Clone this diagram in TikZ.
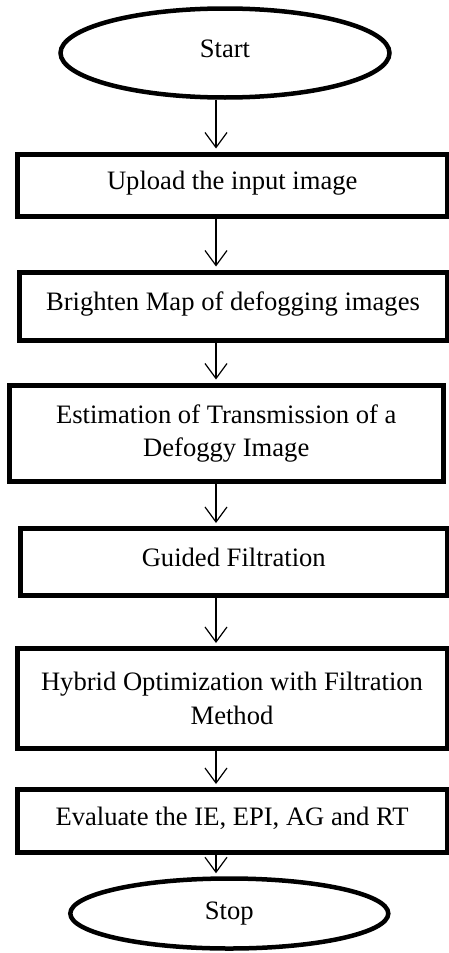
\documentclass[tikz,border=0pt]{standalone}
\usepackage{fontspec}
\setmainfont{Liberation Serif}
\usetikzlibrary{shapes.geometric,arrows.meta}

\begin{document}
\begin{tikzpicture}[x=1pt, y=-1pt, >={Straight Barb[length=15pt,width=22pt]},
		font=\fontsize{26.6}{33.3}\selectfont,
		box/.style={draw, line width=5pt, inner sep=0pt, align=center},
		term/.style={draw, ellipse, line width=4.5pt, inner sep=0pt},
		single/.style={text height=18pt, text depth=10pt}]
	\useasboundingbox (0,0) rectangle (449,953);
	\node[term, single, minimum width=329pt, minimum height=89pt] (start) at (225,53) {Start};
	\node[box, single, minimum width=429.5pt, minimum height=62pt] (upload) at (232.25,185) {Upload the input image};
	\node[box, single, minimum width=428pt, minimum height=68pt] (brighten) at (233,306) {Brighten Map of defogging images};
	\node[box, minimum width=433.5pt, minimum height=96.5pt] (transm) at (226.25,433.25) {Estimation of Transmission of a\\Defoggy Image};
	\node[box, single, minimum width=426.5pt, minimum height=67pt] (guided) at (233.75,562) {Guided Filtration};
	\node[box, minimum width=430pt, minimum height=100pt] (hybrid) at (232,698.5) {Hybrid Optimization with Filtration\\Method};
	\node[box, single, minimum width=430pt, minimum height=63pt] (evaluate) at (232,821) {Evaluate the IE, EPI, AG and RT};
	\node[term, minimum width=318pt, minimum height=70pt] (stop) at (229.3,913.5) {Stop};
	% Nối các bước bằng mũi tên
	\coordinate (col) at (216,0);
	\foreach \a/\b in {start/upload, upload/brighten, brighten/transm, transm/guided, guided/hybrid, hybrid/evaluate, evaluate/stop}
		\draw[->, line width=1.2pt, shorten >=3pt] (\a.south -| col) -- (\b.north -| col);
\end{tikzpicture}
\end{document}
